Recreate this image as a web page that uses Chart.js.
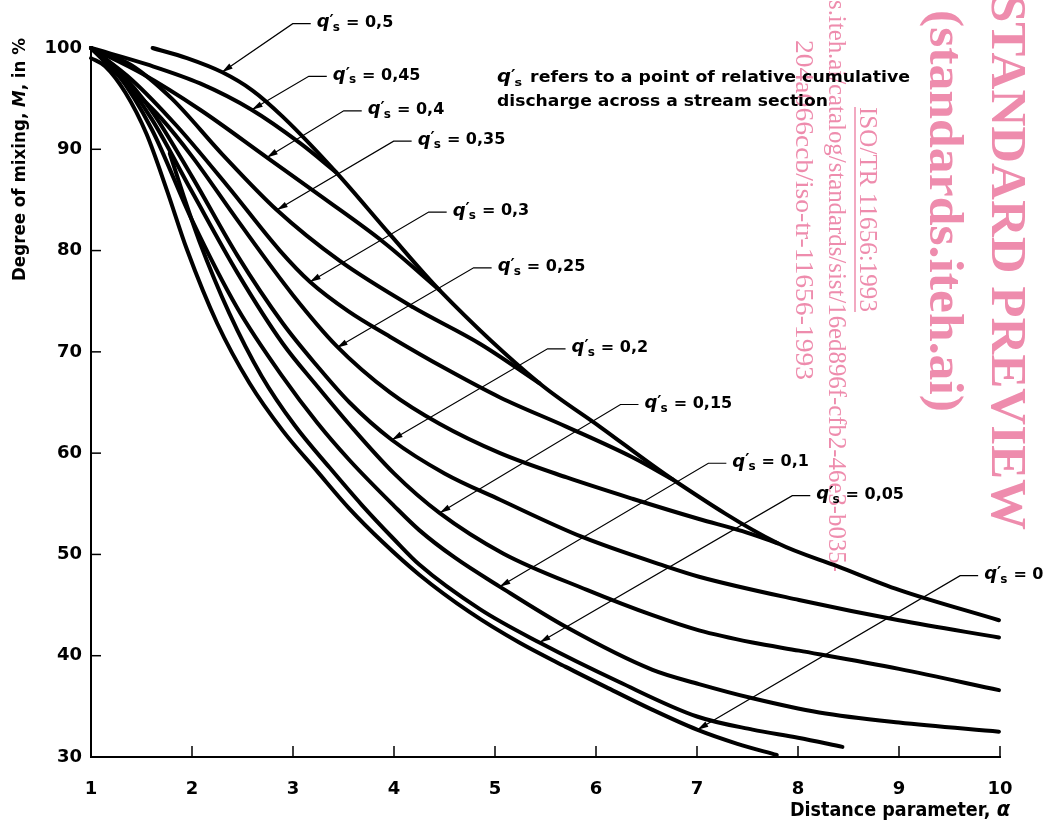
<!DOCTYPE html>
<html>
<head>
<meta charset="utf-8">
<script src="https://cdn.jsdelivr.net/npm/chart.js@4.4.1/dist/chart.umd.min.js"></script>
<style>
  html, body { margin: 0; padding: 0; background: #fff; }
  #wrap { width: 1047px; height: 826px; position: relative; }
</style>
</head>
<body>
<div id="wrap"><canvas id="mixChart"></canvas></div>
<script>
// curves: distance parameter alpha -> degree of mixing M (%)
const q50Alpha = [1.61, 1.95, 2.3, 2.6, 2.9, 3.43, 3.96, 4.45, 5.44, 6.04, 6.76, 7.8, 8.4, 9.0, 9.99];
const q50M     = [100, 99.0, 97.6, 95.8, 93.2, 87.7, 81.6, 76.1, 66.9, 62.6, 57.4, 51.1, 48.8, 46.5, 43.5];
const q45Alpha = [1.0, 1.58, 2.08, 2.59, 3.07, 3.43];
const q45M     = [100, 98.3, 96.5, 93.9, 90.6, 87.7];
const q40Alpha = [1.0, 1.5, 2.08, 2.74, 3.3, 3.9, 4.45];
const q40M     = [100, 97.5, 93.9, 89.2, 85.2, 80.8, 76.1];
const q35Alpha = [1.0, 1.4, 1.8, 2.3, 2.84, 3.46, 4.19, 4.85, 5.44];
const q35M     = [100, 98.3, 95.0, 89.5, 84.0, 79.0, 74.4, 70.8, 66.9];
const q30Alpha = [1.0, 1.4, 1.85, 2.35, 2.87, 3.17, 3.55, 3.96, 4.5, 5.05, 5.71, 6.36, 6.76];
const q30M     = [100, 96.9, 92.3, 86.4, 80.0, 76.9, 74.0, 71.5, 68.4, 65.5, 62.6, 59.6, 57.4];
const q25Alpha = [1.0, 1.3, 1.7, 2.0, 2.45, 3.0, 3.43, 3.96, 4.45, 5.05, 5.71, 6.36, 7.02, 7.45, 7.8];
const q25M     = [100, 97.0, 93.0, 89.3, 83.0, 75.6, 70.6, 66.0, 62.9, 60.0, 57.6, 55.5, 53.5, 52.3, 51.1];
const q20Alpha = [1.0, 1.25, 1.6, 2.0, 2.45, 2.9, 3.24, 3.56, 3.98, 4.5, 5.05, 5.87, 6.7, 7.02, 8.01, 9.0, 9.99];
const q20M     = [100, 98.0, 93.8, 87.3, 79.5, 72.8, 68.6, 65.0, 61.3, 58.0, 55.4, 51.7, 48.8, 47.8, 45.5, 43.5, 41.8];
const q15Alpha = [1.0, 1.25, 1.6, 2.0, 2.45, 2.9, 3.24, 3.56, 4.0, 4.45, 5.08, 5.91, 6.56, 7.02, 7.55, 8.01, 9.0, 9.99];
const q15M     = [100, 97.8, 93.0, 85.8, 77.8, 70.8, 66.6, 62.8, 58.0, 54.1, 50.1, 46.5, 44.0, 42.5, 41.3, 40.5, 38.7, 36.6];
const q10Alpha = [1.0, 1.25, 1.6, 2.0, 2.45, 2.9, 3.24, 3.56, 4.0, 4.25, 4.6, 5.05, 5.71, 6.56, 7.02, 7.55, 8.21, 9.0, 9.99];
const q10M     = [100, 97.6, 92.0, 83.0, 74.3, 67.5, 63.0, 59.3, 54.8, 52.4, 49.7, 46.8, 42.8, 38.6, 37.2, 35.8, 34.4, 33.4, 32.5];
const q05Alpha = [1.78, 1.92, 2.07, 2.37, 2.69, 3.02, 3.36, 3.68, 4.0, 4.25, 4.85, 5.44, 6.23, 7.0, 7.55, 8.0, 8.44];
const q05M     = [89.6, 85.3, 81.0, 73.8, 67.6, 62.7, 58.6, 54.9, 51.5, 49.0, 44.6, 41.3, 37.4, 34.0, 32.7, 31.9, 31.0];
const q00Alpha = [1.0, 1.14, 1.34, 1.55, 1.75, 1.95, 2.25, 2.57, 2.9, 3.24, 3.56, 3.89, 4.25, 4.75, 5.24, 5.7, 6.1, 6.55, 7.0, 7.4, 7.79];
const q00M     = [99.0, 98.2, 95.6, 91.5, 86.0, 80.1, 72.8, 66.9, 62.2, 58.2, 54.5, 51.2, 48.0, 44.3, 41.3, 38.9, 36.9, 34.7, 32.7, 31.3, 30.2];

const qNames = ['0,5', '0,45', '0,4', '0,35', '0,3', '0,25', '0,2', '0,15', '0,1', '0,05', '0'];
const curveAlpha = [q50Alpha, q45Alpha, q40Alpha, q35Alpha, q30Alpha, q25Alpha, q20Alpha, q15Alpha, q10Alpha, q05Alpha, q00Alpha];
const curveM = [q50M, q45M, q40M, q35M, q30M, q25M, q20M, q15M, q10M, q05M, q00M];

// label anchor (text start) and arrow tip, in chart units
const labelAlpha = [3.235, 3.394, 3.740, 4.234, 4.581, 5.026, 5.758, 6.480, 7.350, 8.181, 9.843];
const labelM     = [102.5, 97.3, 93.9, 90.9, 83.9, 78.4, 70.4, 64.9, 59.1, 55.9, 48.0];
const tipAlpha   = [2.296, 2.592, 2.741, 2.840, 3.166, 3.433, 3.977, 4.452, 5.045, 5.441, 7.004];
const tipM       = [97.6, 93.9, 89.2, 84.0, 76.9, 70.4, 61.3, 54.1, 46.8, 41.3, 32.7];

const xTicks = [1, 2, 3, 4, 5, 6, 7, 8, 9, 10];
const yTicks = [30, 40, 50, 60, 70, 80, 90, 100];

const FONT = '"DejaVu Sans", sans-serif';
const SERIF = '"Liberation Serif", serif';
const PINK = '#ee8cad';

const datasets = qNames.map((name, i) => ({
  label: "q's = " + name,
  data: curveAlpha[i].map((a, k) => ({ x: a, y: curveM[i][k] })),
  borderColor: '#000',
  borderWidth: 4,
  pointRadius: 0,
  fill: false,
  cubicInterpolationMode: 'monotone',
  borderCapStyle: 'round',
  borderJoinStyle: 'round',
  clip: false
}));

function richWidth(ctx, parts) {
  let w = 0;
  parts.forEach(p => { ctx.font = p.font; w += ctx.measureText(p.text).width + (p.gap || 0); });
  return w;
}
// draws a run of text pieces, optionally stretched to a given width
function drawRich(ctx, parts, x, y, width) {
  const w = richWidth(ctx, parts);
  const sx = width ? width / w : 1;
  ctx.save();
  ctx.translate(x, y);
  ctx.scale(sx, 1);
  let cx = 0;
  parts.forEach(p => {
    ctx.font = p.font;
    ctx.fillText(p.text, cx, p.dy || 0);
    cx += ctx.measureText(p.text).width + (p.gap || 0);
  });
  ctx.restore();
  return w * sx;
}

function qParts(value) {
  return [
    { text: 'q', font: 'italic bold 18px ' + FONT },
    { text: '\u2032', font: 'bold 16px ' + FONT, dy: -1, gap: -1 },
    { text: 's', font: 'bold 12px ' + FONT, dy: 5, gap: 6 },
    { text: '= ' + value, font: 'bold 16px ' + FONT }
  ];
}

const decor = {
  id: 'decor',
  beforeDraw(chart) {
    const ctx = chart.ctx;
    ctx.save();
    ctx.fillStyle = '#fff';
    ctx.fillRect(0, 0, chart.width, chart.height);
    // pink watermark, rotated to read downwards
    const marks = [
      { text: 'STANDARD PREVIEW', font: 'bold 50px ' + SERIF, x: 1005, y: -6, len: 536 },
      { text: '(standards.iteh.ai)', font: 'bold 48px ' + SERIF, x: 942, y: 10, len: 402 },
      { text: 'ISO/TR 11656:1993', font: '25px ' + SERIF, x: 867, y: 107, len: 205, underline: true },
      { text: 's.iteh.ai/catalog/standards/sist/16ed896f-cfb2-46e3-b035-', font: '24.5px ' + SERIF, x: 835, y: 0, len: 572 },
      { text: '204a066ccb/iso-tr-11656-1993', font: '26px ' + SERIF, x: 803, y: 40, len: 340 }
    ];
    ctx.fillStyle = PINK;
    ctx.strokeStyle = PINK;
    marks.forEach(m => {
      ctx.save();
      ctx.translate(m.x, m.y);
      ctx.rotate(Math.PI / 2);
      ctx.font = m.font;
      ctx.textBaseline = 'middle';
      ctx.textAlign = 'left';
      const w = ctx.measureText(m.text).width;
      ctx.scale(m.len / w, 1);
      ctx.fillText(m.text, 0, 0);
      if (m.underline) {
        ctx.lineWidth = 1.5;
        ctx.beginPath();
        ctx.moveTo(0, 12);
        ctx.lineTo(w, 12);
        ctx.stroke();
      }
      ctx.restore();
    });
    ctx.restore();
  },
  afterDraw(chart) {
    const ctx = chart.ctx;
    const xs = chart.scales.x, ys = chart.scales.y;
    const area = chart.chartArea;
    ctx.save();
    ctx.strokeStyle = '#000';
    ctx.fillStyle = '#000';

    // short inward tick marks
    ctx.lineWidth = 1.5;
    xTicks.slice(1).forEach(v => {
      const px = xs.getPixelForValue(v);
      ctx.beginPath();
      ctx.moveTo(px, area.bottom);
      ctx.lineTo(px, area.bottom - 11);
      ctx.stroke();
    });
    yTicks.slice(1, -1).forEach(v => {
      const py = ys.getPixelForValue(v);
      ctx.beginPath();
      ctx.moveTo(area.left, py);
      ctx.lineTo(area.left + 10, py);
      ctx.stroke();
    });

    // curve labels with leader lines and arrows
    ctx.textBaseline = 'middle';
    ctx.textAlign = 'left';
    qNames.forEach((name, i) => {
      const tx = xs.getPixelForValue(labelAlpha[i]);
      const ty = ys.getPixelForValue(labelM[i]);
      const ax = xs.getPixelForValue(tipAlpha[i]);
      const ay = ys.getPixelForValue(tipM[i]);
      const lx = tx - 24, ly = ty + 1;
      ctx.lineWidth = 1.2;
      ctx.beginPath();
      ctx.moveTo(tx - 6, ly);
      ctx.lineTo(lx, ly);
      ctx.lineTo(ax, ay);
      ctx.stroke();
      const ang = Math.atan2(ay - ly, ax - lx);
      ctx.beginPath();
      ctx.moveTo(ax, ay);
      ctx.lineTo(ax - 11 * Math.cos(ang) + 3 * Math.sin(ang), ay - 11 * Math.sin(ang) - 3 * Math.cos(ang));
      ctx.lineTo(ax - 11 * Math.cos(ang) - 3 * Math.sin(ang), ay - 11 * Math.sin(ang) + 3 * Math.cos(ang));
      ctx.closePath();
      ctx.fill();
      drawRich(ctx, qParts(name), tx, ty);
    });

    // explanatory note
    drawRich(ctx, [
      { text: 'q', font: 'italic bold 17px ' + FONT },
      { text: '\u2032', font: 'bold 15px ' + FONT, dy: -1, gap: -1 },
      { text: 's', font: 'bold 11px ' + FONT, dy: 5, gap: 7 },
      { text: 'refers to a point of relative cumulative', font: 'bold 15px ' + FONT }
    ], 497, 78, 413);
    drawRich(ctx, [{ text: 'discharge across a stream section', font: 'bold 15px ' + FONT }], 497, 102, 331);

    // axis titles
    drawRich(ctx, [
      { text: 'Distance parameter, ', font: 'bold 19px ' + FONT },
      { text: '\u03b1', font: 'italic bold 21px ' + FONT }
    ], 790, 811, 220);

    ctx.save();
    ctx.translate(20, 281);
    ctx.rotate(-Math.PI / 2);
    drawRich(ctx, [
      { text: 'Degree of mixing, ', font: 'bold 18px ' + FONT },
      { text: 'M', font: 'italic bold 18px ' + FONT },
      { text: ', in %', font: 'bold 18px ' + FONT }
    ], 0, 0, 243);
    ctx.restore();

    ctx.restore();
  }
};

new Chart(document.getElementById('mixChart'), {
  type: 'line',
  data: { datasets: datasets },
  options: {
    responsive: true,
    maintainAspectRatio: false,
    animation: false,
    layout: { padding: { left: 0, top: 48, right: 47, bottom: 0 } },
    plugins: { legend: { display: false }, tooltip: { enabled: false } },
    scales: {
      x: {
        type: 'linear',
        min: 1,
        max: 10,
        afterFit(scale) { scale.height = 69; },
        afterBuildTicks(scale) { scale.ticks = xTicks.map(v => ({ value: v })); },
        grid: { display: false, drawTicks: false },
        border: { display: true, color: '#000', width: 2 },
        ticks: { color: '#000', padding: 22, font: { family: FONT, size: 18, weight: 'bold' } }
      },
      y: {
        type: 'linear',
        min: 30,
        max: 100,
        afterFit(scale) { scale.width = 91; },
        afterBuildTicks(scale) { scale.ticks = yTicks.map(v => ({ value: v })); },
        grid: { display: false, drawTicks: false },
        border: { display: true, color: '#000', width: 2 },
        ticks: { color: '#000', padding: 9, font: { family: FONT, size: 18, weight: 'bold' } }
      }
    }
  },
  plugins: [decor]
});
</script>
</body>
</html>
